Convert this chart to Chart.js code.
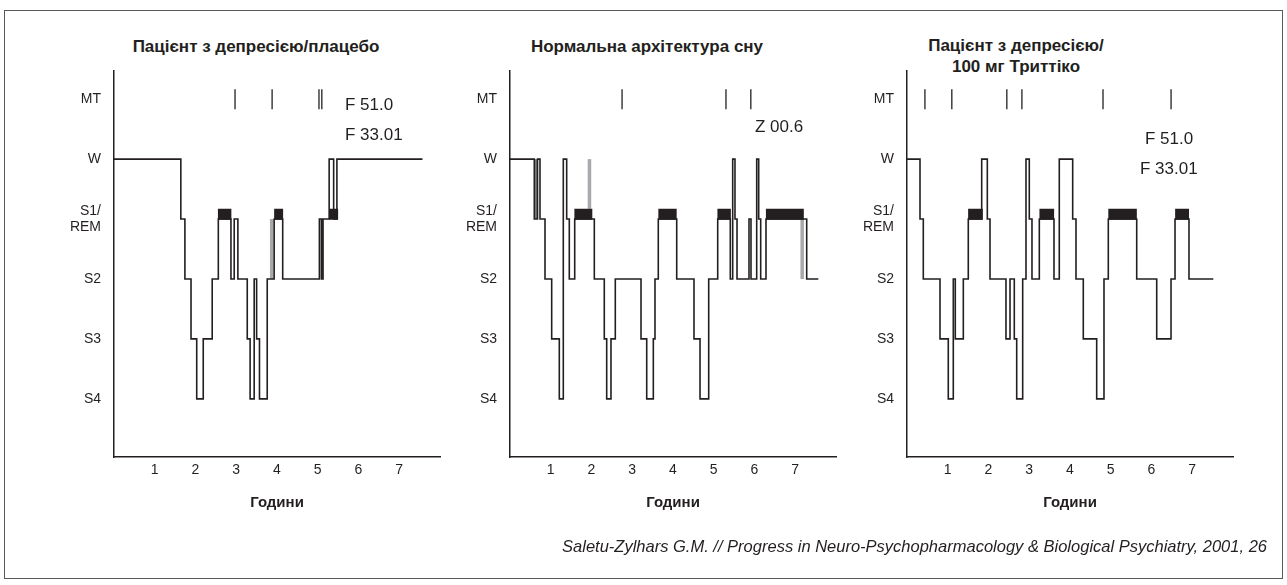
<!DOCTYPE html>
<html lang="uk">
<head>
<meta charset="utf-8">
<title>Архітектура сну</title>
<script src="https://cdn.jsdelivr.net/npm/chart.js@4.4.1/dist/chart.umd.min.js"></script>
<style>
  html, body { margin: 0; padding: 0; background: #fff; }
  body {
    width: 1287px; height: 585px; position: relative; overflow: hidden;
    font-family: "Liberation Sans", Arial, sans-serif; color: #231f20;
  }
  .frame {
    position: absolute; left: 4px; top: 10px; width: 1279px; height: 569px;
    border: 1px solid #58595b; box-sizing: border-box;
  }
  .panel { position: absolute; top: 0; width: 452px; height: 585px; }
  .title {
    position: absolute; font-weight: bold; font-size: 17px; line-height: 21px;
    text-align: center; white-space: nowrap; transform: translate(-50%, -50%);
  }
  .note {
    position: absolute; font-size: 17px; white-space: nowrap; transform: translateY(-50%);
  }
  .cite {
    position: absolute; right: 20px; top: 546px; transform: translateY(-50%);
    font-style: italic; font-size: 16.5px; white-space: nowrap;
  }
</style>
</head>
<body>
<div class="frame"></div>

<div class="title" style="left:256px; top:46px">Пацієнт з депресією/плацебо</div>
<div class="title" style="left:647px; top:46px">Нормальна архітектура сну</div>
<div class="title" style="left:1016px; top:56px">Пацієнт з депресією/<br>100 мг Триттіко</div>

<div class="panel" style="left:4px"><canvas id="placebo"></canvas></div>
<div class="panel" style="left:400px"><canvas id="normal"></canvas></div>
<div class="panel" style="left:797px"><canvas id="trittico"></canvas></div>

<div class="note" style="left:345px; top:105px">F 51.0</div>
<div class="note" style="left:345px; top:135px">F 33.01</div>
<div class="note" style="left:755px; top:127px">Z 00.6</div>
<div class="note" style="left:1145px; top:139px">F 51.0</div>
<div class="note" style="left:1140px; top:169px">F 33.01</div>

<div class="cite">Saletu-Zylhars G.M. // Progress in Neuro-Psychopharmacology &amp; Biological Psychiatry, 2001, 26</div>

<script>
// x axis: hours of sleep; y axis: sleep stages (S4 = 0 ... W = 4, MT = 5)
const hours = [1, 2, 3, 4, 5, 6, 7]
const stageLabels = ["S4", "S3", "S2", ["S1/", "REM"], "W", "MT"]

// Patient with depression / placebo: stage change times (h) and new stage
const placeboTimes = [0, 1.64, 1.74, 1.89, 2.03, 2.19, 2.41, 2.56, 2.87, 2.95, 3.04, 3.27, 3.34,
  3.44, 3.50, 3.57, 3.76, 3.93, 4.14, 5.04, 5.09, 5.13, 5.28, 5.39, 5.47, 7.57]
const placeboStages = [4, 3, 2, 1, 0, 1, 2, 3, 2, 3, 2, 1, 0,
  2, 1, 0, 2, 3, 2, 3, 2, 3, 4, 3, 4, 4]
const placeboRem = [[2.55, 2.88], [3.93, 4.15], [5.28, 5.50]]
const placeboGrey = [[3.87, 2, 3]]
const placeboMt = [2.97, 3.88, 5.03, 5.10]

// Normal sleep architecture
const normalTimes = [0, 0.596, 0.675, 0.736, 0.859, 1.023, 1.210, 1.308, 1.391, 1.455,
  1.588, 2.069, 2.314, 2.373, 2.478, 2.584, 3.215, 3.355, 3.517, 3.558,
  3.639, 4.091, 4.515, 4.663, 4.876, 5.097, 5.406, 5.465, 5.521, 5.571,
  5.865, 5.914, 6.054, 6.103, 6.152, 6.282, 7.281, 7.566]
const normalStages = [4, 3, 4, 3, 2, 1, 0, 4, 3, 2,
  3, 2, 1, 0, 1, 2, 1, 0, 1, 2,
  3, 2, 1, 0, 2, 3, 2, 4, 3, 2,
  3, 2, 4, 3, 2, 3, 2, 2]
const normalRem = [[1.58, 2.02], [3.64, 4.09], [5.09, 5.42], [6.28, 7.21]]
const normalGrey = [[1.95, 3.17, 4], [7.17, 2, 3]]
const normalDarkGrey = [[0.64, 3, 4]]
const normalMt = [2.75, 5.30, 5.91]

// Patient with depression / 100 mg Trittico
const tritticoTimes = [0, 0.319, 0.400, 0.810, 1.013, 1.136, 1.185, 1.382, 1.504, 1.833,
  1.971, 2.037, 2.429, 2.528, 2.633, 2.692, 2.839, 2.920, 3.001, 3.067,
  3.247, 3.607, 3.737, 4.066, 4.147, 4.326, 4.655, 4.834, 4.940, 5.637,
  6.128, 6.479, 6.577, 6.920, 7.517]
const tritticoStages = [4, 3, 2, 1, 0, 2, 1, 2, 3, 4,
  3, 2, 1, 2, 1, 0, 2, 4, 3, 2,
  3, 2, 4, 3, 2, 1, 0, 2, 3, 2,
  1, 2, 3, 2, 2]
const tritticoRem = [[1.50, 1.86], [3.25, 3.61], [4.94, 5.64], [6.58, 6.92]]
const tritticoGrey = []
const tritticoMt = [0.44, 1.10, 2.45, 2.82, 4.81, 6.48]

const INK = "#231f20"
const GREY = "#a7a9ac"
const DARK_GREY = "#808285"

Chart.defaults.font.family = '"Liberation Sans", Arial, sans-serif'
Chart.defaults.color = INK

function segment(points, color, width) {
  return {
    data: points,
    borderColor: color,
    borderWidth: width,
    borderCapStyle: "butt",
    pointRadius: 0,
    fill: false,
  }
}

function buildHypnogram(id, times, stages, rem, grey, darkGrey, mt) {
  const datasets = []

  // main stepped hypnogram
  datasets.push({
    data: times.map((t, i) => ({ x: t, y: stages[i] })),
    stepped: "before",
    borderColor: INK,
    borderWidth: 1.6,
    pointRadius: 0,
    fill: false,
  })

  // REM periods: thick black bar sitting on the S1 level
  rem.forEach(([a, b]) => {
    datasets.push(segment([{ x: a, y: 3.08 }, { x: b, y: 3.08 }], INK, 11))
  })

  grey.forEach(([t, a, b]) => {
    datasets.push(segment([{ x: t, y: a }, { x: t, y: b }], GREY, 3.5))
  })
  darkGrey.forEach(([t, a, b]) => {
    datasets.push(segment([{ x: t, y: a }, { x: t, y: b }], DARK_GREY, 3.5))
  })

  // movement time marks
  datasets.push({
    data: mt.map((t) => ({ x: t, y: 5 })),
    showLine: false,
    pointStyle: "line",
    rotation: 90,
    pointRadius: 10,
    borderColor: INK,
    borderWidth: 1.3,
  })

  return new Chart(document.getElementById(id), {
    type: "line",
    data: { datasets: datasets },
    options: {
      responsive: true,
      maintainAspectRatio: false,
      animation: false,
      layout: { padding: { top: 71, right: 16, left: 0, bottom: 0 } },
      plugins: {
        legend: { display: false },
        tooltip: { enabled: false },
      },
      scales: {
        x: {
          type: "linear",
          min: 0,
          max: 8,
          grid: { display: false, drawTicks: false },
          border: { display: true, color: INK, width: 1.5 },
          afterBuildTicks: (scale) => {
            scale.ticks = hours.map((v) => ({ value: v }))
          },
          ticks: {
            color: INK,
            font: { size: 14 },
            padding: 5,
            autoSkip: false,
            maxRotation: 0,
          },
          title: {
            display: true,
            text: "Години",
            color: INK,
            font: { size: 15, weight: "bold" },
            padding: { top: 0, bottom: 73 },
          },
          afterFit: (scale) => {
            scale.height = 128
          },
        },
        y: {
          min: -0.97,
          max: 5.47,
          grid: { display: false, drawTicks: false },
          border: { display: true, color: INK, width: 1.5 },
          afterBuildTicks: (scale) => {
            scale.ticks = stageLabels.map((_, i) => ({ value: i }))
          },
          ticks: {
            color: INK,
            font: { size: 14, lineHeight: 1.1 },
            padding: 13,
            autoSkip: false,
            callback: (value) => stageLabels[value],
          },
          afterFit: (scale) => {
            scale.width = 110
          },
        },
      },
    },
  })
}

buildHypnogram("placebo", placeboTimes, placeboStages, placeboRem, placeboGrey, [], placeboMt)
buildHypnogram("normal", normalTimes, normalStages, normalRem, normalGrey, normalDarkGrey, normalMt)
buildHypnogram("trittico", tritticoTimes, tritticoStages, tritticoRem, tritticoGrey, [], tritticoMt)
</script>
</body>
</html>
